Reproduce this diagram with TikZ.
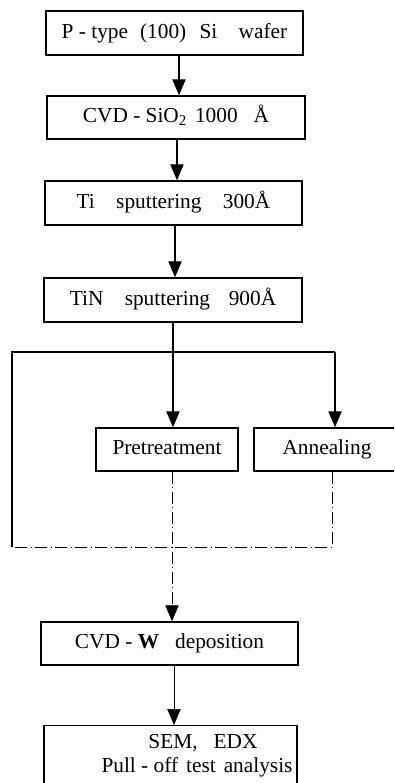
\documentclass[tikz,border=0pt]{standalone}
\usepackage{fontspec}
\setmainfont{Liberation Serif}
\usetikzlibrary{arrows.meta}
\begin{document}
\begin{tikzpicture}[x=0.75pt,y=-0.75pt,
  box/.style={draw, line width=1.1pt, inner sep=0pt, font=\fontsize{16}{18}\selectfont, align=center, text height=11pt, text depth=3.5pt},
  tip/.style={-{Triangle[width=10pt,length=12pt]}},
  arr/.style={line width=0.8pt, tip},
  thinarr/.style={line width=0.5pt, tip},
  con/.style={line width=0.8pt},
  lbl/.style={font=\fontsize{16}{18}\selectfont, inner sep=0pt},
  dd/.style={line width=0.5pt, dash pattern=on 9pt off 2.5pt on 1pt off 2.5pt}]
\useasboundingbox (0,0) rectangle (394,783);
\clip (0,0) rectangle (394,783);
\node[box, minimum width=192.75pt, minimum height=33pt] (b1) at (174.5,33)
  {P - type\hspace{5pt} (100)\hspace{6pt} Si\hspace{12pt} wafer};
\node[box, minimum width=193.5pt, minimum height=32.25pt] (b2) at (176,117.5)
  {CVD - SiO\textsubscript{2}\hspace{2pt} 1000\hspace{8pt} Å};
\node[box, minimum width=192.75pt, minimum height=33pt] (b3) at (173.5,203)
  {Ti\hspace{12pt} sputtering\hspace{12pt} 300Å};
\node[box, minimum width=193.5pt, minimum height=33pt] (b4) at (173,300)
  {TiN\hspace{12pt} sputtering\hspace{10pt} 900Å};
\node[box, minimum width=106.5pt, minimum height=32.25pt] (pre) at (167,449.5)
  {Pretreatment};
\node[box, minimum width=109.5pt, minimum height=32.25pt] (ann) at (327,449.5)
  {Annealing};
\node[box, minimum width=192.75pt, minimum height=32.25pt] (cvdw) at (169.5,643.5)
  {CVD - \textbf{W}\hspace{8pt} deposition};
\node[box, minimum width=189.75pt, minimum height=56.25pt, anchor=north] (res) at (170.5,725)
  {};
\node[lbl] (t1) at (203,743) {SEM,\hspace{8pt} EDX};
\node[lbl] (t2) at (197,767) {Pull - off\hspace{2pt} test\hspace{2pt} analysis};
% arrow columns
\coordinate (a1) at (179,0);
\coordinate (a2) at (177,0);
\coordinate (a3) at (175,0);
\coordinate (hm) at (173,352);
\coordinate (hl) at (12,352);
\coordinate (hr) at (335,352);
\coordinate (bl) at (12,547);
\coordinate (br) at (332,547);
\coordinate (pm) at (172,0);
\coordinate (a5) at (174,0);
\draw[arr] (b1.south -| a1) -- (b2.north -| a1);
\draw[arr] (b2.south -| a2) -- (b3.north -| a2);
\draw[arr] (b3.south -| a3) -- (b4.north -| a3);
\draw[con] (b4.south -| hm) -- (hm);
\draw[con] (bl) -- (hl) -- (hr);
\draw[arr] (hm) -- (pre.north -| hm);
\draw[arr] (hr) -- (ann.north -| hr);
\draw[dd] (ann.south -| br) -- (br) -- (bl);
\draw[dd, tip] (pre.south -| pm) -- (cvdw.north -| pm);
\draw[thinarr] (cvdw.south -| a5) -- (res.north -| a5);
\end{tikzpicture}
\end{document}
